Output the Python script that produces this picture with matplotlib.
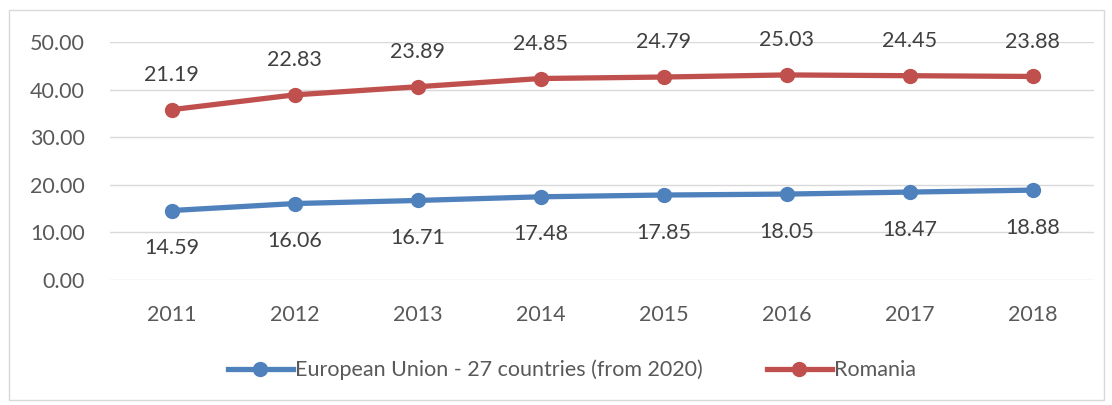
import numpy as np
import matplotlib
matplotlib.use('Agg')
import matplotlib.pyplot as plt
from matplotlib.patches import Rectangle

# data
years = ['2011', '2012', '2013', '2014', '2015', '2016', '2017', '2018']
eu27 = [14.59, 16.06, 16.71, 17.48, 17.85, 18.05, 18.47, 18.88]
romania = [21.19, 22.83, 23.89, 24.85, 24.79, 25.03, 24.45, 23.88]
labels = ['European Union - 27 countries (from 2020)', 'Romania']

plt.rcParams['font.family'] = ['Lato', 'DejaVu Sans']

blue = '#4F81BD'
red = '#C0504D'
fs = 15.5

fig = plt.figure(figsize=(11.12, 4.05), dpi=100)
ax = fig.add_axes([110 / 1112, 1 - 280 / 405, (1094 - 110) / 1112, (280 - 42) / 405])

x = np.arange(len(years))
# stacked line chart: Romania drawn on top of EU values
stacked = np.array(eu27) + np.array(romania)

ax.plot(x, eu27, color=blue, lw=3.8, marker='o', ms=10, label=labels[0], zorder=3)
ax.plot(x, stacked, color=red, lw=3.8, marker='o', ms=10, label=labels[1], zorder=3)

for xi, v in zip(x, eu27):
    ax.annotate(f'{v:.2f}', (xi, v), xytext=(0, -27), textcoords='offset points',
                ha='center', va='center', fontsize=fs, color='#404040')
for xi, s, v in zip(x, stacked, romania):
    ax.annotate(f'{v:.2f}', (xi, s), xytext=(0, 25), textcoords='offset points',
                ha='center', va='center', fontsize=fs, color='#404040')

ax.set_xlim(-0.5, len(years) - 0.5)
ax.set_ylim(0, 50)
ax.set_yticks(np.arange(0, 51, 10))
ax.set_yticklabels([f'{t:.2f}' for t in np.arange(0, 51, 10)])
ax.set_xticks(x)
ax.set_xticklabels(years)
ax.tick_params(axis='both', length=0, labelsize=fs, colors='#595959')
ax.tick_params(axis='x', pad=18)
ax.tick_params(axis='y', pad=18)
ax.grid(axis='y', color='#D9D9D9', lw=1)
ax.set_axisbelow(True)
for sp in ax.spines.values():
    sp.set_visible(False)

leg = fig.legend(loc='center', bbox_to_anchor=(572 / 1112, 1 - 370 / 405), ncol=2,
                 frameon=False, fontsize=fs, handlelength=3, columnspacing=3,
                 handletextpad=0.1, labelcolor='#595959')

fig.patches.append(Rectangle((9 / 1112, 1 - 400 / 405), (1104 - 9) / 1112, (400 - 10) / 405,
                             transform=fig.transFigure, fill=False, edgecolor='#D9D9D9', lw=1))

fig.savefig('out.png', dpi=100)
